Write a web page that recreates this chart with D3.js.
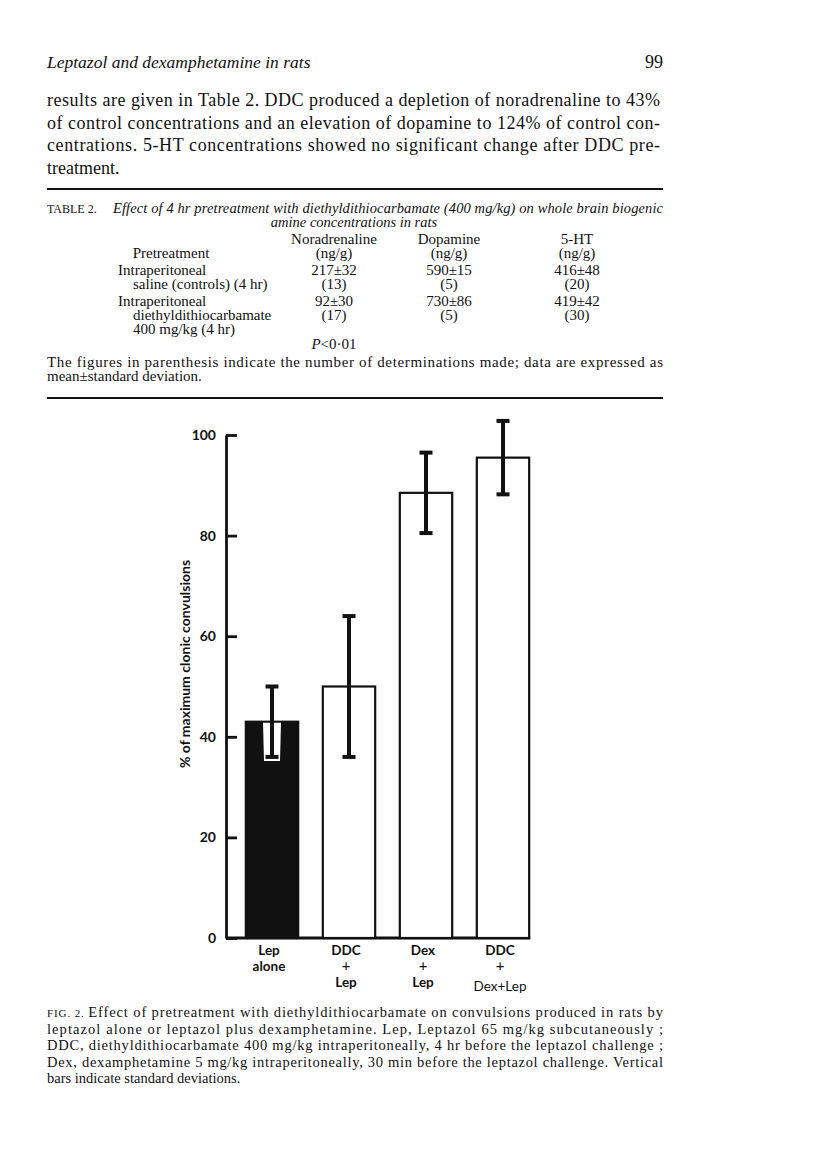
<!DOCTYPE html>
<html lang="en">
<head>
<meta charset="utf-8"/>
<title>Fig. 2 - Leptazol and dexamphetamine in rats</title>
<script src="https://d3js.org/d3.v7.min.js"></script>
<style>
  body { margin: 0; background: #fff; }
  svg { display: block; }
  .serif { font-family: "Liberation Serif", "Times New Roman", serif; fill: #111; }
  .sans { font-family: Lato, "Open Sans", sans-serif; font-weight: bold; fill: #111; }
</style>
</head>
<body>
<svg id="page" width="816" height="1170"></svg>
<script>
// chart data
const groups = ["Lep alone", "DDC + Lep", "Dex + Lep", "DDC + Dex+Lep"];
const groupLabels = [["Lep", "alone"], ["DDC", "+", "Lep"], ["Dex", "+", "Lep"], ["DDC", "+", "Dex+Lep"]];
const means = [43, 50, 88.5, 95.5];
const sds = [7, 14, 8, 7.3];
const filled = [true, false, false, false];
const yTicks = [0, 20, 40, 60, 80, 100];

// page text
const bodyLines = [
  "results are given in Table 2.  DDC produced a depletion of noradrenaline to 43%",
  "of control concentrations and an elevation of dopamine to 124% of control con-",
  "centrations.  5-HT concentrations showed no significant change after DDC pre-",
  "treatment."
];
const tableCols = ["Noradrenaline", "Dopamine", "5-HT"];
const tableUnits = ["(ng/g)", "(ng/g)", "(ng/g)"];
const rowLabels = [["Intraperitoneal", "saline (controls) (4 hr)"],
                   ["Intraperitoneal", "diethyldithiocarbamate", "400 mg/kg (4 hr)"]];
const rowValues = [["217±32", "590±15", "416±48"], ["92±30", "730±86", "419±42"]];
const rowN = [["(13)", "(5)", "(20)"], ["(17)", "(5)", "(30)"]];
const figCaption = [
  "Effect of pretreatment with diethyldithiocarbamate on convulsions produced in rats by",
  "leptazol alone or leptazol plus dexamphetamine.  Lep, Leptazol 65 mg/kg subcutaneously ;",
  "DDC, diethyldithiocarbamate 400 mg/kg intraperitoneally, 4 hr before the leptazol challenge ;",
  "Dex, dexamphetamine 5 mg/kg intraperitoneally, 30 min before the leptazol challenge.  Vertical",
  "bars indicate standard deviations."
];

const svg = d3.select('#page');
const L = 47, R = 663;

function line(x, y, txt, size, opts = {}) {
  const t = svg.append('text')
    .attr('class', opts.cls || 'serif')
    .attr('x', x).attr('y', y)
    .style('font-size', size + 'px')
    .text(txt);
  if (opts.italic) t.style('font-style', 'italic');
  if (opts.anchor) t.attr('text-anchor', opts.anchor);
  if (opts.width) t.attr('textLength', opts.width).attr('lengthAdjust', 'spacing');
  return t;
}

// header
line(L, 68, "Leptazol and dexamphetamine in rats", 17.5, {italic: true});
line(R, 68, "99", 18, {anchor: 'end'});

// body paragraph
bodyLines.forEach((s, i) => {
  line(L, 106 + i * 22.5, s, 18, {width: i < 3 ? R - L - 3 : null});
});

svg.append('line').attr('x1', L).attr('x2', R).attr('y1', 189).attr('y2', 189)
  .attr('stroke', '#111').attr('stroke-width', 2);

// table 2
line(L, 213, "TABLE 2.", 12);
line(113, 213, "Effect of 4 hr pretreatment with diethyldithiocarbamate (400 mg/kg) on whole brain biogenic", 14.5, {italic: true, width: R - 113});
line(354, 227, "amine concentrations in rats", 14.5, {italic: true, anchor: 'middle'});

const colX = [334, 449, 577];
tableCols.forEach((c, i) => line(colX[i], 244, c, 15, {anchor: 'middle'}));
line(171, 258, "Pretreatment", 15, {anchor: 'middle'});
tableUnits.forEach((c, i) => line(colX[i], 258, c, 15, {anchor: 'middle'}));

const rowY = [275, 306];
rowLabels.forEach((r, i) => {
  r.forEach((s, j) => line(j === 0 ? 118 : 133, rowY[i] + j * 14, s, 15));
  rowValues[i].forEach((v, k) => line(colX[k], rowY[i], v, 15, {anchor: 'middle'}));
  rowN[i].forEach((v, k) => line(colX[k], rowY[i] + 14, v, 15, {anchor: 'middle'}));
});
const pt = line(334, 349, "", 15, {anchor: 'middle'});
pt.append('tspan').style('font-style', 'italic').text("P");
pt.append('tspan').text("<0·01");

line(L, 367, "The figures in parenthesis indicate the number of determinations made;  data are expressed as", 15, {width: R - L});
line(L, 381, "mean±standard deviation.", 15);

svg.append('line').attr('x1', L).attr('x2', R).attr('y1', 398).attr('y2', 398)
  .attr('stroke', '#111').attr('stroke-width', 2);

// ---- Figure 2 bar chart ----
const axisX = 226;
const y = d3.scaleLinear().domain([0, 100]).range([938, 435]);
const x = d3.scaleBand().domain(groups).range([233.5, 541.5]).paddingInner(0.32).paddingOuter(0.16);

const g = svg.append('g');

const yAxis = g.append('g')
  .attr('transform', `translate(${axisX},0)`)
  .call(d3.axisLeft(y).tickValues(yTicks).tickSizeInner(-11).tickSizeOuter(0).tickPadding(10));
yAxis.select('.domain').attr('stroke', '#111').attr('stroke-width', 2.8);
yAxis.selectAll('.tick line').attr('stroke', '#111').attr('stroke-width', 2.8);
yAxis.selectAll('.tick text')
  .attr('class', 'sans').attr('fill', '#111')
  .style('font-size', '14px').style('font-family', 'Lato, "Open Sans", sans-serif').style('font-weight', 'bold');

// baseline
g.append('line')
  .attr('x1', axisX).attr('x2', x(groups[3]) + x.bandwidth() + 1)
  .attr('y1', y(0)).attr('y2', y(0))
  .attr('stroke', '#111').attr('stroke-width', 2.8);

// bars
g.selectAll('.bar').data(groups).enter().append('rect')
  .attr('x', d => x(d))
  .attr('y', (d, i) => y(means[i]))
  .attr('width', x.bandwidth())
  .attr('height', (d, i) => y(0) - y(means[i]))
  .attr('fill', (d, i) => filled[i] ? '#111' : '#fff')
  .attr('stroke', '#111').attr('stroke-width', 2.2);

// white halo for the error bar inside the black bar
groups.forEach((d, i) => {
  if (!filled[i]) return;
  const cx = x(d) + x.bandwidth() / 2;
  const top = y(means[i]) + 1, bot = y(means[i] - sds[i]) + 4;
  g.append('path')
    .attr('d', `M${cx - 9},${top}L${cx + 9},${top}L${cx + 8},${bot}L${cx - 8},${bot}Z`)
    .attr('fill', '#fff');
});

// error bars
const capW = 13;
groups.forEach((d, i) => {
  const cx = x(d) + x.bandwidth() / 2;
  const hi = y(means[i] + sds[i]), lo = y(means[i] - sds[i]);
  g.append('line').attr('x1', cx).attr('x2', cx).attr('y1', hi).attr('y2', lo)
    .attr('stroke', '#111').attr('stroke-width', 4);
  [hi, lo].forEach(v => {
    g.append('line').attr('x1', cx - capW / 2).attr('x2', cx + capW / 2).attr('y1', v).attr('y2', v)
      .attr('stroke', '#111').attr('stroke-width', 4);
  });
});

// category labels
groupLabels.forEach((lines, i) => {
  const cx = x(groups[i]) + x.bandwidth() / 2 - 3;
  lines.forEach((s, j) => {
    const t = line(cx, 955 + j * 16 + (s === 'Dex+Lep' ? 4 : 0), s, s === '+' ? 15 : 13.5, {cls: 'sans', anchor: 'middle'});
    if (s === '+' || s === 'Dex+Lep') t.style('font-weight', 'normal');
  });
});

// y label
svg.append('text')
  .attr('class', 'sans')
  .attr('transform', 'translate(190,664) rotate(-90)')
  .attr('text-anchor', 'middle')
  .style('font-size', '14px')
  .text("% of maximum clonic convulsions");

// figure caption
const fc = line(L, 1017, "", 14.5, {width: R - L});
fc.append('tspan').style('font-size', '11px').text("FIG. 2.  ");
fc.append('tspan').text(" " + figCaption[0]);
figCaption.slice(1).forEach((s, i) => {
  line(L, 1017 + (i + 1) * 16.5, s, 14.5, {width: i < 3 ? R - L : null});
});
</script>
</body>
</html>
